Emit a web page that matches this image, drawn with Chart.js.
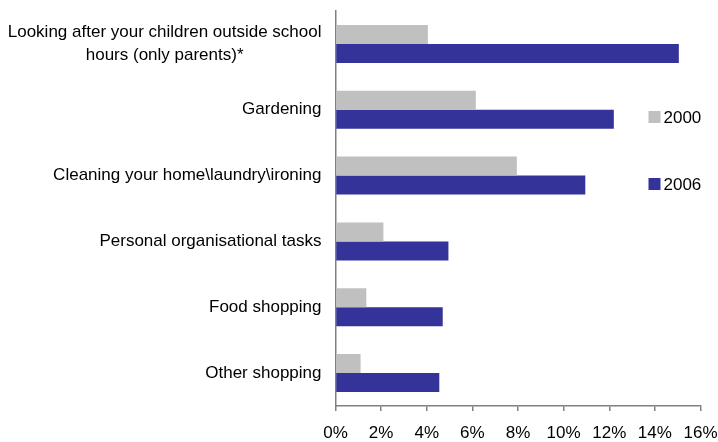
<!DOCTYPE html>
<html>
<head>
<meta charset="utf-8">
<script src="https://cdn.jsdelivr.net/npm/chart.js@4.4.0/dist/chart.umd.min.js"></script>
<style>
    body { margin: 0; background: #ffffff; }
</style>
</head>
<body>
<canvas id="timeChart" width="718" height="442"></canvas>
<script>
const categories = [
    ["Looking after your children outside school", "hours (only parents)*"],
    "Gardening",
    "Cleaning your home\\laundry\\ironing",
    "Personal organisational tasks",
    "Food shopping",
    "Other shopping",
];
const seriesLabels = ["2000", "2006"];
const values2000 = [4.05, 6.15, 7.95, 2.1, 1.35, 1.1];
const values2006 = [15.05, 12.2, 10.95, 4.95, 4.7, 4.55];
const xMin = 0;
const xMax = 16;
const xStep = 2;

const fontFamily = "'Liberation Sans', Arial, sans-serif";
const fontSize = 17;
const axisColor = "#808080";

Chart.defaults.font.family = fontFamily;
Chart.defaults.font.size = fontSize;
Chart.defaults.color = "#000000";

// category names drawn left of the plot, multi-line names centred on their longest line
const categoryLabels = {
    id: "categoryLabels",
    afterDraw(chart) {
        const ctx = chart.ctx;
        const yScale = chart.scales.y;
        const right = chart.chartArea.left - 14;
        const lineHeight = 23;

        ctx.save();
        ctx.font = `${fontSize}px ${fontFamily}`;
        ctx.fillStyle = "#000000";
        ctx.textAlign = "center";
        ctx.textBaseline = "middle";

        categories.forEach((label, i) => {
            const lines = Array.isArray(label) ? label : [label];
            const maxWidth = Math.max(...lines.map(l => ctx.measureText(l).width));
            const centerX = right - maxWidth / 2;
            const centerY = yScale.getPixelForValue(i);
            const startY = centerY - ((lines.length - 1) * lineHeight) / 2;

            lines.forEach((line, j) => {
                ctx.fillText(line, centerX, startY + j * lineHeight);
            });
        });
        ctx.restore();
    },
};

// legend sitting inside the plot on the right
const sideLegend = {
    id: "sideLegend",
    afterDraw(chart) {
        const ctx = chart.ctx;
        const area = chart.chartArea;
        const boxSize = 12;
        const boxX = area.right - 52;
        const rows = [area.top + 106, area.top + 173];

        ctx.save();
        ctx.font = `${fontSize}px ${fontFamily}`;
        ctx.textAlign = "left";
        ctx.textBaseline = "middle";

        chart.data.datasets.forEach((ds, i) => {
            ctx.fillStyle = ds.backgroundColor;
            ctx.fillRect(boxX, rows[i] - boxSize / 2, boxSize, boxSize);
            ctx.fillStyle = "#000000";
            ctx.fillText(ds.label, boxX + boxSize + 3, rows[i] + 1);
        });
        ctx.restore();
    },
};

function setTimeChart() {
    const ctx = document.getElementById("timeChart").getContext("2d");

    new Chart(ctx, {
        type: "bar",
        data: {
            labels: categories,
            datasets: [
                {
                    label: seriesLabels[0],
                    backgroundColor: "#c0c0c0",
                    data: values2000,
                },
                {
                    label: seriesLabels[1],
                    backgroundColor: "#333399",
                    data: values2006,
                },
            ],
        },
        options: {
            indexAxis: "y",
            responsive: false,
            animation: false,
            layout: {
                padding: { top: 11, right: 17.5, left: 0, bottom: 0 },
            },
            datasets: {
                bar: {
                    barPercentage: 1,
                    categoryPercentage: 0.578,
                },
            },
            plugins: {
                legend: { display: false },
                tooltip: { enabled: false },
            },
            scales: {
                x: {
                    min: xMin,
                    max: xMax,
                    ticks: {
                        stepSize: xStep,
                        padding: 12,
                        callback: value => `${value}%`,
                    },
                    grid: {
                        drawOnChartArea: false,
                        drawTicks: true,
                        tickLength: 5,
                        color: axisColor,
                        lineWidth: 1.5,
                    },
                    border: { color: axisColor, width: 1.5 },
                    afterFit: scale => {
                        scale.height = 36;
                        scale.paddingLeft = 0;
                        scale.paddingRight = 0;
                    },
                },
                y: {
                    ticks: { display: false },
                    grid: { display: false },
                    border: { color: axisColor, width: 1.5 },
                    afterFit: scale => {
                        scale.width = 335.5;
                    },
                },
            },
        },
        plugins: [categoryLabels, sideLegend],
    });
}

setTimeChart();
</script>
</body>
</html>
